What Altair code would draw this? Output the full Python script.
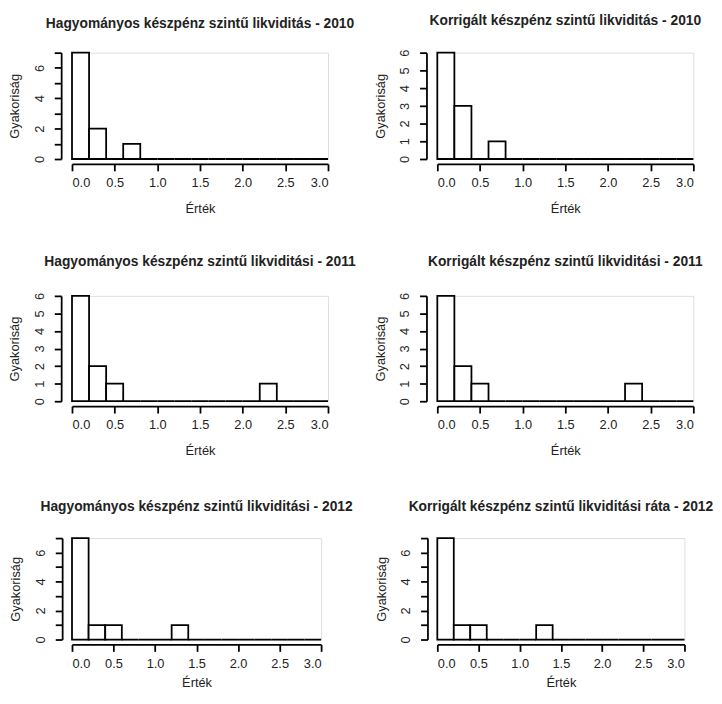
import altair as alt
import pandas as pd

bin_starts = [0.0, 0.2, 0.4, 0.6, 0.8, 1.0, 1.2, 1.4, 1.6, 1.8, 2.0, 2.2, 2.4, 2.6, 2.8]
bin_ends = [0.2, 0.4, 0.6, 0.8, 1.0, 1.2, 1.4, 1.6, 1.8, 2.0, 2.2, 2.4, 2.6, 2.8, 3.0]

counts_h2010 = [7, 2, 0, 1, 0, 0, 0, 0, 0, 0, 0, 0, 0, 0, 0]
counts_k2010 = [6, 3, 0, 1, 0, 0, 0, 0, 0, 0, 0, 0, 0, 0, 0]
counts_h2011 = [6, 2, 1, 0, 0, 0, 0, 0, 0, 0, 0, 1, 0, 0, 0]
counts_k2011 = [6, 2, 1, 0, 0, 0, 0, 0, 0, 0, 0, 1, 0, 0, 0]
counts_h2012 = [7, 1, 1, 0, 0, 0, 1, 0, 0, 0, 0, 0, 0, 0, 0]
counts_k2012 = [7, 1, 1, 0, 0, 0, 1, 0, 0, 0, 0, 0, 0, 0, 0]

titles = [
    "Hagyományos készpénz szintű likviditás - 2010",
    "Korrigált készpénz szintű likviditás - 2010",
    "Hagyományos készpénz szintű likviditási - 2011",
    "Korrigált készpénz szintű likviditási - 2011",
    "Hagyományos készpénz szintű likviditási - 2012",
    "Korrigált készpénz szintű likviditási ráta - 2012",
]

x_ticks = [0.0, 0.5, 1.0, 1.5, 2.0, 2.5, 3.0]
x_title = "Érték"
y_title = "Gyakoriság"

FONT = "Liberation Sans"
TXT = "#222222"


def panel(title, counts, ymax, w, h, yoff, toff, xtpad):
    df = pd.DataFrame({"start": bin_starts, "end": bin_ends, "count": counts})
    yvals = list(range(0, ymax + 1))
    lexpr = "datum.value % 2 == 0 ? datum.label : ''" if ymax > 6 else "datum.label"
    common = dict(
        domainColor="black", domainWidth=1.8, tickColor="black", tickWidth=1.8,
        tickSize=7, grid=False, labelFont=FONT, labelFontSize=13, labelColor=TXT,
        titleFont=FONT, titleFontSize=13, titleFontWeight="normal", titleColor=TXT,
    )
    return alt.Chart(df).mark_rect(fill="white", stroke="black", strokeWidth=1.8).encode(
        x=alt.X("start:Q",
                scale=alt.Scale(domain=[0, 3], nice=False, zero=False),
                axis=alt.Axis(title=x_title, values=x_ticks, format=".1f", offset=5,
                              labelPadding=6, titlePadding=xtpad, **common)),
        x2="end:Q",
        y=alt.Y("count:Q",
                scale=alt.Scale(domain=[0, ymax], nice=False),
                axis=alt.Axis(title=y_title, values=yvals, labelExpr=lexpr, offset=yoff,
                              labelAngle=270, labelAlign="center", labelBaseline="middle",
                              labelPadding=15, titlePadding=12, **common)),
        y2=alt.datum(0),
    ).properties(
        width=w, height=h,
        title=alt.TitleParams(title, font=FONT, fontSize=14, fontWeight="bold",
                              color=TXT, anchor="middle", frame="group", offset=toff),
    )


panels = [
    panel(titles[0], counts_h2010, 7, 260, 108, 11, 21, 13),
    panel(titles[1], counts_k2010, 6, 260, 108, 11, 21, 13),
    panel(titles[2], counts_h2011, 6, 260, 107, 11, 24, 13),
    panel(titles[3], counts_k2011, 6, 260, 107, 11, 24, 13),
    panel(titles[4], counts_h2012, 7, 253, 103, 10, 24, 7),
    panel(titles[5], counts_k2012, 7, 251, 103, 10, 24, 7),
]

chart = alt.concat(*panels, columns=2, spacing={"row": 139, "column": 111},
                   bounds="flush", align="each").properties(
    padding={"left": 0, "top": 0, "right": 0, "bottom": 0}
).configure_view(stroke=None).configure(background="white")

chart.save("out.html", embed_options={"renderer": "svg", "actions": False})
